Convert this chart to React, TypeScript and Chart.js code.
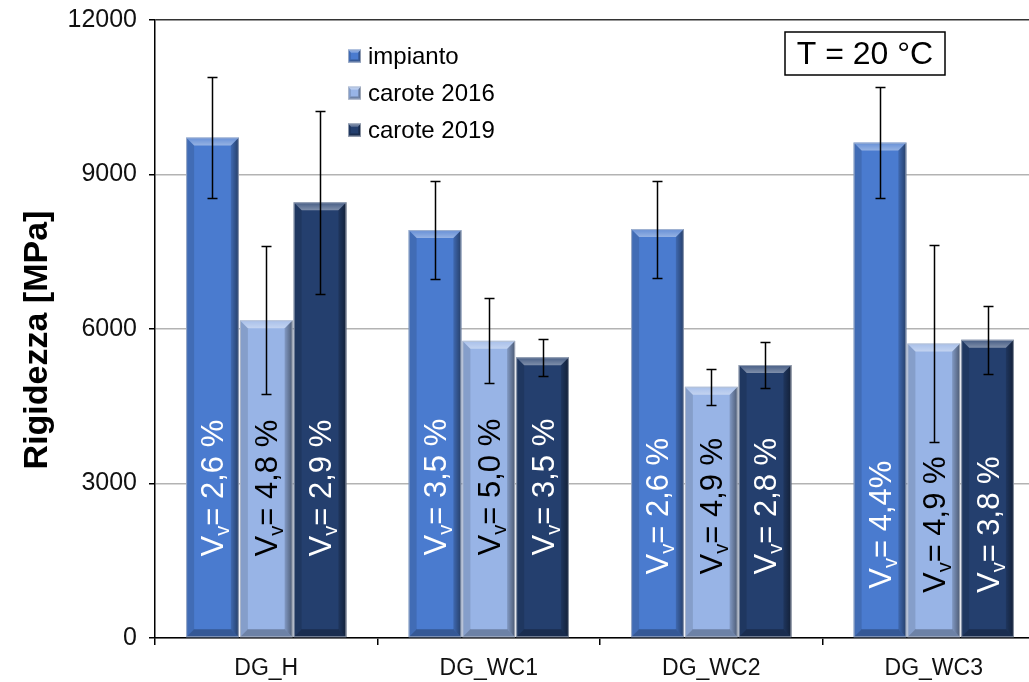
import React, { useEffect, useRef } from "react";
import { Chart, registerables } from "chart.js";

Chart.register(...registerables);

const categories = ["DG_H", "DG_WC1", "DG_WC2", "DG_WC3"];
const seriesNames = ["impianto", "carote 2016", "carote 2019"];
const impianto = [9720, 7920, 7940, 9620];
const impiantoErr = [1180, 950, 940, 1070];
const carote2016 = [6170, 5770, 4880, 5720];
const carote2016Err = [1440, 825, 352, 1910];
const carote2019 = [8460, 5450, 5300, 5790];
const carote2019Err = [1780, 362, 447, 657];
const vvImpianto = ["2,6 %", "3,5 %", "2,6 %", "4,4%"];
const vv2016 = ["4,8 %", "5,0 %", "4,9 %", "4,9 %"];
const vv2019 = ["2,9 %", "3,5 %", "2,8 %", "3,8 %"];
const yMin = 0;
const yMax = 12000;
const yStep = 3000;
const yTitle = "Rigidezza [MPa]";
const boxText = "T = 20 °C";

// layout / style (not data)
const COLORS = ["#4a7bcf", "#98b4e6", "#243f6e"];
const LABEL_COLORS = ["#ffffff", "#000000", "#ffffff"];
const LABEL_CENTER_VALUE = [2910, 2930, 2560, 2200];
const FONT = '"Liberation Sans", Arial, Helvetica, sans-serif';

const errs = [impiantoErr, carote2016Err, carote2019Err];
const vvs = [vvImpianto, vv2016, vv2019];

function drawBevel(ctx: CanvasRenderingContext2D, left: number, top: number, right: number, bottom: number, b: number) {
  const h = bottom - top;
  if (h <= 0) return;
  const bb = Math.min(b, h / 2);
  ctx.save();
  ctx.beginPath();
  ctx.moveTo(left, top);
  ctx.lineTo(left + bb, top + bb);
  ctx.lineTo(left + bb, bottom - bb);
  ctx.lineTo(left, bottom);
  ctx.closePath();
  ctx.fillStyle = "rgba(0,0,0,0.12)";
  ctx.fill();
  const gr = ctx.createLinearGradient(right - bb, 0, right, 0);
  gr.addColorStop(0, "rgba(0,0,0,0.15)");
  gr.addColorStop(1, "rgba(0,0,0,0.5)");
  ctx.beginPath();
  ctx.moveTo(right, top);
  ctx.lineTo(right - bb, top + bb);
  ctx.lineTo(right - bb, bottom - bb);
  ctx.lineTo(right, bottom);
  ctx.closePath();
  ctx.fillStyle = gr;
  ctx.fill();
  const gt = ctx.createLinearGradient(0, top, 0, top + bb);
  gt.addColorStop(0, "rgba(255,255,255,0.15)");
  gt.addColorStop(1, "rgba(255,255,255,0.42)");
  ctx.beginPath();
  ctx.moveTo(left, top);
  ctx.lineTo(right, top);
  ctx.lineTo(right - bb, top + bb);
  ctx.lineTo(left + bb, top + bb);
  ctx.closePath();
  ctx.fillStyle = gt;
  ctx.fill();
  ctx.beginPath();
  ctx.moveTo(left, bottom);
  ctx.lineTo(right, bottom);
  ctx.lineTo(right - bb, bottom - bb);
  ctx.lineTo(left + bb, bottom - bb);
  ctx.closePath();
  ctx.fillStyle = "rgba(0,0,0,0.28)";
  ctx.fill();
  ctx.strokeStyle = "rgba(190,195,205,0.7)";
  ctx.lineWidth = 1;
  ctx.strokeRect(left + 0.5, top + 0.5, right - left - 1, bottom - top - 1);
  ctx.restore();
}

function drawVv(ctx: CanvasRenderingContext2D, cx: number, cy: number, rest: string, color: string) {
  ctx.save();
  ctx.translate(cx, cy);
  ctx.rotate(-Math.PI / 2);
  const big = `31px ${FONT}`;
  const small = `20px ${FONT}`;
  ctx.font = big;
  const wV = ctx.measureText("V").width;
  const wRest = ctx.measureText("= " + rest).width;
  ctx.font = small;
  const wv = ctx.measureText("v").width;
  const total = wV + wv + wRest;
  let x0 = -total / 2;
  const base = 11;
  ctx.fillStyle = color;
  ctx.textAlign = "left";
  ctx.textBaseline = "alphabetic";
  ctx.font = big;
  ctx.fillText("V", x0, base);
  x0 += wV;
  ctx.font = small;
  ctx.fillText("v", x0, base + 6);
  x0 += wv;
  ctx.font = big;
  ctx.fillText("= " + rest, x0, base);
  ctx.restore();
}

const customPlugin = {
  id: "customDraw",
  afterDatasetsDraw(chart: any) {
    const ctx: CanvasRenderingContext2D = chart.ctx;
    const ys = chart.scales.y;
    chart.data.datasets.forEach((_ds: any, i: number) => {
      const meta = chart.getDatasetMeta(i);
      meta.data.forEach((bar: any) => {
        const p = bar.getProps(["x", "y", "base", "width"], true);
        drawBevel(ctx, p.x - p.width / 2, p.y, p.x + p.width / 2, p.base, 8);
      });
    });
    ctx.save();
    ctx.strokeStyle = "#000";
    ctx.lineWidth = 1.5;
    chart.data.datasets.forEach((ds: any, i: number) => {
      const meta = chart.getDatasetMeta(i);
      meta.data.forEach((bar: any, j: number) => {
        const p = bar.getProps(["x"], true);
        const v = ds.data[j];
        const e = errs[i][j];
        const yt = Math.round(ys.getPixelForValue(v + e)) + 0.5;
        const yb = Math.round(ys.getPixelForValue(v - e)) + 0.5;
        const x = Math.round(p.x) + 0.5;
        ctx.beginPath();
        ctx.moveTo(x, yt);
        ctx.lineTo(x, yb);
        ctx.moveTo(x - 5, yt);
        ctx.lineTo(x + 5, yt);
        ctx.moveTo(x - 5, yb);
        ctx.lineTo(x + 5, yb);
        ctx.stroke();
      });
    });
    ctx.restore();
    chart.data.datasets.forEach((_ds: any, i: number) => {
      const meta = chart.getDatasetMeta(i);
      meta.data.forEach((bar: any, j: number) => {
        const p = bar.getProps(["x"], true);
        const cy = ys.getPixelForValue(LABEL_CENTER_VALUE[j]);
        drawVv(ctx, p.x, cy, vvs[i][j], LABEL_COLORS[i]);
      });
    });
  },
  afterDraw(chart: any) {
    const ctx: CanvasRenderingContext2D = chart.ctx;
    const area = chart.chartArea;
    ctx.save();
    const legY = [56, 93, 130];
    ctx.font = `24px ${FONT}`;
    ctx.textBaseline = "middle";
    ctx.textAlign = "left";
    seriesNames.forEach((name, i) => {
      const sx = 348, sy = legY[i] - 6.5, s = 13;
      ctx.fillStyle = COLORS[i];
      ctx.fillRect(sx, sy, s, s);
      drawBevel(ctx, sx, sy, sx + s, sy + s, 3);
      ctx.fillStyle = "#000";
      ctx.fillText(name, 368, legY[i] + 1);
    });
    ctx.strokeStyle = "#000";
    ctx.lineWidth = 1.5;
    ctx.fillStyle = "#fff";
    ctx.fillRect(785, 32, 160, 43);
    ctx.strokeRect(785, 32, 160, 43);
    ctx.fillStyle = "#000";
    ctx.font = `32px ${FONT}`;
    ctx.textAlign = "center";
    ctx.textBaseline = "middle";
    ctx.fillText(boxText, 865, 55);
    ctx.translate(38, (area.top + area.bottom) / 2 + 11);
    ctx.rotate(-Math.PI / 2);
    ctx.font = `bold 34px ${FONT}`;
    ctx.textAlign = "center";
    ctx.textBaseline = "middle";
    ctx.fillText(yTitle, 0, 0);
    ctx.restore();
  },
};

export default function App() {
  const ref = useRef<HTMLCanvasElement | null>(null);
  useEffect(() => {
    if (!ref.current) return;
    const chart = new Chart(ref.current, {
      type: "bar",
      data: {
        labels: categories,
        datasets: [
          { label: seriesNames[0], data: impianto, backgroundColor: COLORS[0] },
          { label: seriesNames[1], data: carote2016, backgroundColor: COLORS[1] },
          { label: seriesNames[2], data: carote2019, backgroundColor: COLORS[2] },
        ],
      },
      options: {
        responsive: false,
        animation: false,
        devicePixelRatio: 1,
        layout: { padding: { top: 20, left: 0, right: 0, bottom: 0 } },
        datasets: { bar: { categoryPercentage: 0.725, barPercentage: 0.98 } },
        plugins: { legend: { display: false }, tooltip: { enabled: false } },
        scales: {
          x: {
            offset: true,
            grid: { display: true, offset: true, drawOnChartArea: false, drawTicks: true, tickLength: 7, tickColor: "#000", lineWidth: 1.5 },
            border: { display: true, color: "#000", width: 1.5 },
            ticks: { color: "#111", font: { family: FONT, size: 23 }, padding: 10, maxRotation: 0 },
            afterFit: (s: any) => { s.height = 44; s.paddingLeft = 0; s.paddingRight = 0; },
          },
          y: {
            min: yMin,
            max: yMax,
            grid: {
              color: (c: any) => (c.tick && c.tick.value === yMax ? "#333" : "#b3b3b3"),
              lineWidth: 1.5,
              drawTicks: true,
              tickLength: 6,
              tickColor: "#000",
            },
            border: { display: true, color: "#000", width: 1.5 },
            ticks: {
              stepSize: yStep,
              color: "#111",
              font: { family: FONT, size: 25 },
              padding: 12,
              callback: (v: any) => String(v),
            },
            afterFit: (s: any) => { s.width = 155; s.paddingTop = 0; s.paddingBottom = 0; },
          },
        },
      },
      plugins: [customPlugin],
    } as any);
    return () => chart.destroy();
  }, []);
  return (
    <div style={{ position: "fixed", left: 0, top: 0, width: 1029, height: 682, overflow: "hidden", background: "#fff" }}>
      <canvas ref={ref} width={1045} height={682} style={{ display: "block", width: 1045, height: 682 }} />
    </div>
  );
}
